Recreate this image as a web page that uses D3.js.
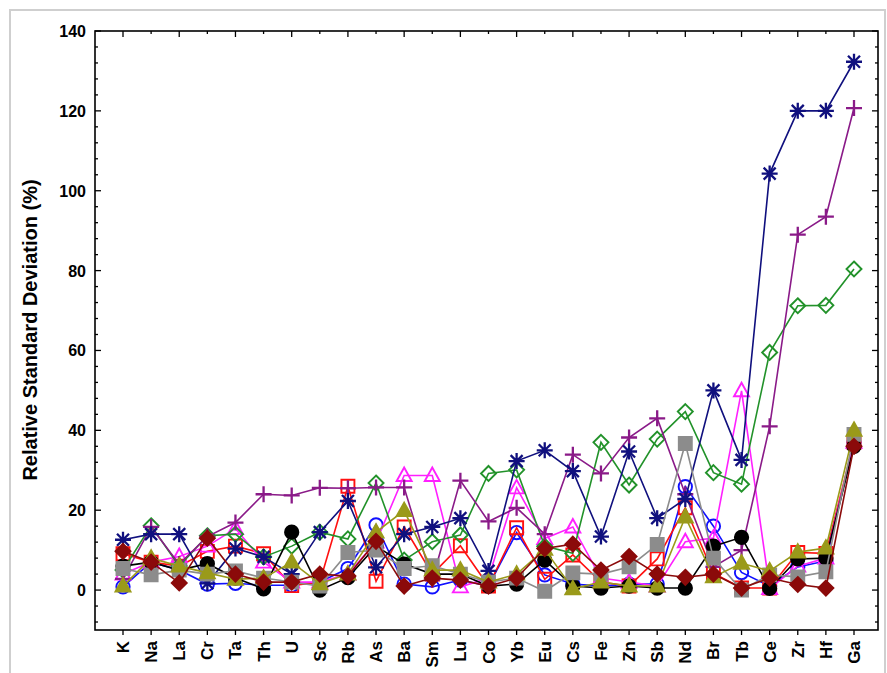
<!DOCTYPE html>
<html>
<head>
<meta charset="utf-8">
<script src="https://cdn.jsdelivr.net/npm/d3@7"></script>
<style>
  body { margin: 0; background: white; }
  svg { font-family: Arial, "Liberation Sans", sans-serif; }
</style>
</head>
<body>
<svg id="chart" width="887" height="673"></svg>
<script>
const width = 887;
const height = 673;

const elements = ["K", "Na", "La", "Cr", "Ta", "Th", "U", "Sc", "Rb", "As", "Ba", "Sm", "Lu",
    "Co", "Yb", "Eu", "Cs", "Fe", "Zn", "Sb", "Nd", "Br", "Tb", "Ce", "Zr", "Hf", "Ga"];

const yTicks = [0, 20, 40, 60, 80, 100, 120, 140];

// one array per sample series (relative standard deviation, %)
const blueCircle = [0.8, 7, 5, 1.5, 1.7, 1.2, 1.2, 2, 5.4, 16.3, 1.5, 0.8, 2.5, 1, 14.4, 3.8, 1.5, 1, 1.5, 1.5, 25.9, 16, 4.4, 1, 5.8, 7.3, 37];
const redSquare = [9.1, 7, 6, 9.7, 11, 9.1, 1.1, 2, 26, 2.2, 15.8, 4, 11.1, 1, 15.6, 2.7, 8.8, 2, 1, 7.8, 20.6, 4.2, 0.5, 0.5, 9.4, 9.2, 37];
const magentaTriangle = [4, 7, 8.4, 11, 15.4, 7, 2, 2, 4, 12, 28.7, 28.7, 0.8, 3, 25.6, 12.9, 15.8, 3, 2, 1, 12.1, 13, 49.9, 0.4, 6, 8, 37];
const greenDiamond = [5, 16.1, 6, 13.6, 14, 8.3, 11, 14.5, 12.8, 26.8, 7.5, 12.1, 13.8, 29.2, 30.1, 11, 9.2, 37, 26.3, 37.8, 44.7, 29.4, 26.5, 59.5, 71.2, 71.3, 80.4];
const purplePlus = [2.8, 15.8, 6.5, 13.4, 16.9, 24, 23.7, 25.6, 25.5, 25.7, 25.7, 2.5, 27.4, 17.2, 20.6, 14, 33.9, 29.2, 38.2, 43, 24, 5.8, 10, 41, 89, 93.5, 120.7];
const navyStar = [12.6, 14, 14, 1.7, 10.4, 8.3, 4, 14.5, 22.3, 5.7, 14, 15.8, 18, 4.8, 32.3, 35, 29.8, 13.4, 34.7, 18, 22.8, 50, 32.6, 104.3, 120, 120, 132.3];
const blackCircle = [6, 7, 5, 6.6, 3, 0.3, 14.5, 0, 3.1, 11, 6.5, 4, 4, 1, 1.5, 7.5, 1, 0.5, 1, 0.5, 0.5, 11, 13.2, 0.4, 7.8, 8, 36];
const graySquare = [5.4, 3.8, 5, 4, 4.8, 3, 2, 1, 9.4, 10, 5.4, 6.1, 4, 2, 3, -0.3, 4.3, 4, 5.8, 11.4, 36.7, 8, 0, 3.8, 3.3, 4.6, 39];
const oliveTriangle = [1, 8, 6, 4.3, 2.7, 3, 7, 1.6, 4, 14.5, 19.9, 5, 5, 2, 4, 10.2, 0.3, 2, 1, 1, 18.3, 3.3, 6.7, 4.8, 9.5, 10.5, 40];
const redDiamond = [9.7, 7, 1.8, 13, 4, 2, 2, 4, 3.5, 12.2, 1, 3, 2.5, 1, 3, 10.4, 11.5, 5, 8.4, 4, 3.2, 4, 0.5, 3, 1.4, 0.5, 36];

const series = [
    { values: blueCircle, color: "#1010ff", shape: "circle", fill: false },
    { values: redSquare, color: "#ff1010", shape: "square", fill: false },
    { values: magentaTriangle, color: "#ff20ff", shape: "triangle", fill: false },
    { values: greenDiamond, color: "#22922a", shape: "diamond", fill: false },
    { values: purplePlus, color: "#8a1a88", shape: "plus", fill: false },
    { values: navyStar, color: "#10107e", shape: "star", fill: false },
    { values: blackCircle, color: "#000000", shape: "circle", fill: true },
    { values: graySquare, color: "#8c8c8c", shape: "square", fill: true },
    { values: oliveTriangle, color: "#9a9a1a", shape: "triangle", fill: true },
    { values: redDiamond, color: "#8b0a0a", shape: "diamond", fill: true }
];

const svg = d3.select("#chart");

// light frame around the figure
svg.append("rect")
    .attr("x", 10).attr("y", 10)
    .attr("width", 875).attr("height", 680)
    .attr("fill", "none")
    .attr("stroke", "#cfcfcf")
    .attr("stroke-width", 2);

const plot = { left: 95, right: 878, top: 31, bottom: 630 };

const x = d3.scalePoint()
    .domain(elements)
    .range([123, 854]);

const y = d3.scaleLinear()
    .domain([-10, 140])
    .range([plot.bottom, plot.top]);

// ticks
const axisG = svg.append("g").attr("stroke", "#000").attr("stroke-width", 1.3);
const minorY = d3.range(-8, 141, 4);
minorY.forEach(v => {
    const major = v % 20 === 0;
    const len = major ? 6 : 3;
    axisG.append("line").attr("x1", plot.left).attr("x2", plot.left + len)
        .attr("y1", y(v)).attr("y2", y(v));
    axisG.append("line").attr("x1", plot.right).attr("x2", plot.right - len)
        .attr("y1", y(v)).attr("y2", y(v));
});
elements.forEach((e, i) => {
    const len = i % 2 === 0 ? 6 : 3;
    axisG.append("line").attr("x1", x(e)).attr("x2", x(e))
        .attr("y1", plot.top).attr("y2", plot.top + len);
    axisG.append("line").attr("x1", x(e)).attr("x2", x(e))
        .attr("y1", plot.bottom).attr("y2", plot.bottom + 5);
});

// y tick labels
svg.append("g").selectAll("text")
    .data(yTicks)
    .enter()
    .append("text")
    .attr("x", 86)
    .attr("y", d => y(d) + 6)
    .attr("text-anchor", "end")
    .attr("font-size", 16)
    .attr("font-weight", "bold")
    .text(d => d);

// x tick labels (rotated)
svg.append("g").selectAll("text")
    .data(elements)
    .enter()
    .append("text")
    .attr("transform", d => `translate(${x(d) + 6},641) rotate(-90)`)
    .attr("text-anchor", "end")
    .attr("font-size", 17)
    .attr("font-weight", "bold")
    .text(d => d);

// y axis title
svg.append("text")
    .attr("transform", "rotate(-90)")
    .attr("x", -330)
    .attr("y", 37)
    .attr("text-anchor", "middle")
    .attr("font-size", 20)
    .attr("font-weight", "bold")
    .text("Relative Standard Deviation (%)");

function markerPath(shape) {
    switch (shape) {
        case "circle": return d3.symbol(d3.symbolCircle, 140)();
        case "square": return "M-6.5,-6.5H6.5V6.5H-6.5Z";
        case "triangle": return "M0,-8L7.5,5.5H-7.5Z";
        case "diamond": return "M0,-7.5L7.5,0L0,7.5L-7.5,0Z";
        case "plus": return "M-8,0H8M0,-8V8";
        case "star": return "M-8,0H8M0,-8V8M-6,-6L6,6M-6,6L6,-6";
    }
}

const line = d3.line()
    .x((d, i) => x(elements[i]))
    .y(d => y(d));

series.forEach(s => {
    const g = svg.append("g");
    g.append("path")
        .datum(s.values)
        .attr("fill", "none")
        .attr("stroke", s.color)
        .attr("stroke-width", 1.6)
        .attr("d", line);

    const lineMarker = s.shape === "plus" || s.shape === "star";
    g.selectAll("path.mk")
        .data(s.values)
        .enter()
        .append("path")
        .attr("class", "mk")
        .attr("transform", (d, i) => `translate(${x(elements[i])},${y(d)})`)
        .attr("d", markerPath(s.shape))
        .attr("fill", s.fill ? s.color : "none")
        .attr("stroke", s.color)
        .attr("stroke-width", lineMarker ? 2.3 : 1.9);
});

// plot frame
svg.append("rect")
    .attr("x", plot.left).attr("y", plot.top)
    .attr("width", plot.right - plot.left)
    .attr("height", plot.bottom - plot.top)
    .attr("fill", "none")
    .attr("stroke", "#000")
    .attr("stroke-width", 1.6);
</script>
</body>
</html>
